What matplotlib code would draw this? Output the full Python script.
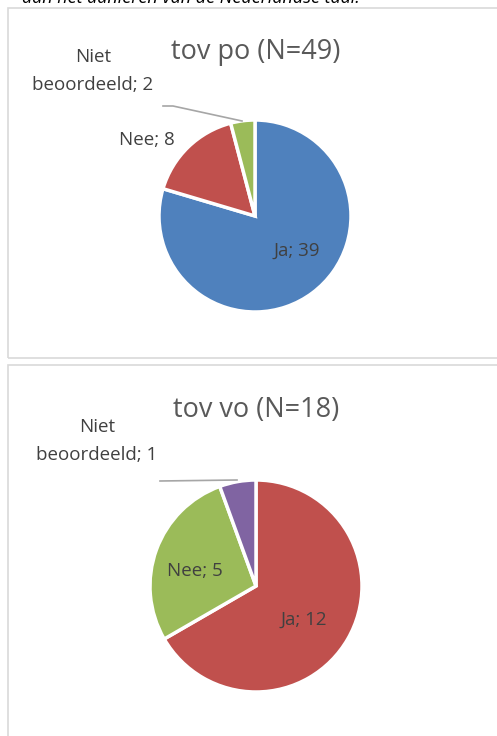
import matplotlib.pyplot as plt
from matplotlib.patches import Rectangle

# data
labels = ["Ja", "Nee", "Niet beoordeeld"]
po_values = [39, 8, 2]
vo_values = [12, 5, 1]
po_colors = ["#4F81BD", "#C0504D", "#9BBB59"]
vo_colors = ["#C0504D", "#9BBB59", "#8064A2"]

W, H = 497, 736
plt.rcParams['font.family'] = ['Open Sans', 'DejaVu Sans']

fig = plt.figure(figsize=(W / 100, H / 100), dpi=100)
ax = fig.add_axes([0, 0, 1, 1])

def Y(y):
    return H - y

txt = "#404040"
fs = 13.5

# cut-off caption at the top
ax.text(22, Y(3), "aan het aanleren van de Nederlandse taal.", fontsize=13,
        style='italic', color='black', ha='left', va='baseline')

# panel frames
ax.add_patch(Rectangle((8, Y(358)), 520, 350, fill=False, edgecolor='#D9D9D9', lw=1.2))
ax.add_patch(Rectangle((8, Y(760)), 520, 395, fill=False, edgecolor='#D9D9D9', lw=1.2))

wp = dict(edgecolor='white', linewidth=2.5)

# chart 1: tov po
ax.pie(po_values, center=(255, Y(216)), radius=96, startangle=90,
       counterclock=False, colors=po_colors, wedgeprops=wp)
ax.text(256, Y(52), "tov po (N=49)", fontsize=19.5, color="#595959", ha='center', va='center')
ax.text(93, Y(71), "Niet\nbeoordeeld; " + str(po_values[2]), fontsize=fs, color=txt,
        ha='center', va='center', linespacing=1.75)
ax.text(147, Y(140), "Nee; " + str(po_values[1]), fontsize=fs, color=txt, ha='center', va='center')
ax.text(297, Y(251), "Ja; " + str(po_values[0]), fontsize=fs, color=txt, ha='center', va='center')
ax.plot([163, 173, 242], [Y(106), Y(106), Y(121)], color='#A6A6A6', lw=1.2)

# chart 2: tov vo
ax.pie(vo_values, center=(256, Y(586)), radius=106, startangle=90,
       counterclock=False, colors=vo_colors, wedgeprops=wp)
ax.text(256, Y(410), "tov vo (N=18)", fontsize=19.5, color="#595959", ha='center', va='center')
ax.text(97, Y(441), "Niet\nbeoordeeld; " + str(vo_values[2]), fontsize=fs, color=txt,
        ha='center', va='center', linespacing=1.75)
ax.text(195, Y(571), "Nee; " + str(vo_values[1]), fontsize=fs, color=txt, ha='center', va='center')
ax.text(304, Y(620), "Ja; " + str(vo_values[0]), fontsize=fs, color=txt, ha='center', va='center')
ax.plot([160, 237], [Y(481), Y(480)], color='#A6A6A6', lw=1.2)

ax.set_xlim(0, W)
ax.set_ylim(0, H)
ax.set_aspect('equal')
ax.axis('off')

fig.savefig("out.png", dpi=100)
